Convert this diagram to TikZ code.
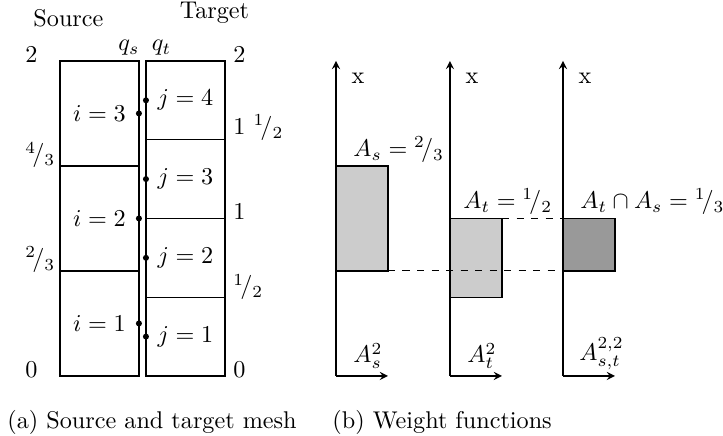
\documentclass[tikz,border=0pt]{standalone}
\usepackage{amsmath}
\usepackage{amssymb}
\usetikzlibrary{arrows.meta,positioning,calc}
\newcommand{\nfrac}[2]{\ensuremath{{}^{#1}\!/{}_{#2}}}
\tikzset{
  lbl/.style={inner sep=0pt},
  cell/.style={draw,line width=0.5pt},
  axis/.style={->,line width=0.5pt},
  guide/.style={line width=0.4pt,dashed},
  pt/.style={circle,fill,inner sep=0pt,minimum size=2.5pt}
}
\begin{document}
\begin{tikzpicture}[x=1cm,y=2.2876cm,>=stealth]
\useasboundingbox (-0.871,-0.381) rectangle (9.630,2.387);
% source and target mesh
\node[lbl] (srcname) at (0.123,2.273) {Source};
\node[lbl] (tgtname) at (2.244,2.305) {Target};
\draw[cell] (0,0) rectangle (1.147,2);
\draw[cell] (0,2/3) -- (1.147,2/3);
\draw[cell] (0,4/3) -- (1.147,4/3);
\draw[cell] (1.249,0) rectangle (2.397,2);
\draw[cell] (1.249,0.5) -- (2.397,0.5);
\draw[cell] (1.249,1) -- (2.397,1);
\draw[cell] (1.249,1.5) -- (2.397,1.5);
\node[lbl] (qs) at (1.002,2.083) {$q_s$};
\node[lbl] (qt) at (1.474,2.083) {$q_t$};
\node[lbl,anchor=west] (s2) at (-0.508,2.038) {$2$};
\node[lbl,anchor=west] (s43) at (-0.508,1.403) {\nfrac{4}{3}};
\node[lbl,anchor=west] (s23) at (-0.508,0.737) {\nfrac{2}{3}};
\node[lbl,anchor=west] (s0) at (-0.508,0.041) {$0$};
\node[lbl,anchor=west] (t2) at (2.513,2.038) {$2$};
\node[lbl,anchor=west] (t32) at (2.513,1.575) {$1$ \nfrac{1}{2}};
\node[lbl,anchor=west] (t1) at (2.513,1.041) {$1$};
\node[lbl,anchor=west] (t12) at (2.513,0.565) {\nfrac{1}{2}};
\node[lbl,anchor=west] (t0) at (2.513,0.041) {$0$};
\node (i3) at (0.574,5/3) {$i=3$};
\node (i2) at (0.574,1) {$i=2$};
\node (i1) at (0.574,1/3) {$i=1$};
\node (j4) at (1.823,1.75) {$j=4$};
\node (j3) at (1.823,1.25) {$j=3$};
\node (j2) at (1.823,0.75) {$j=2$};
\node (j1) at (1.823,0.25) {$j=1$};
\node[pt] (pi3) at (1.147,5/3) {};
\node[pt] (pi2) at (1.147,1) {};
\node[pt] (pi1) at (1.147,1/3) {};
\node[pt] (pj4) at (1.249,1.75) {};
\node[pt] (pj3) at (1.249,1.25) {};
\node[pt] (pj2) at (1.249,0.75) {};
\node[pt] (pj1) at (1.249,0.25) {};
% weight functions
\coordinate (o1) at (4.009,0);
\coordinate (o2) at (5.664,0);
\coordinate (o3) at (7.306,0);
\fill[black!20] (4.009,2/3) rectangle (4.764,4/3);
\fill[black!20] (5.664,0.5) rectangle (6.420,1);
\fill[black!40] (7.306,2/3) rectangle (8.061,1);
\draw[line width=0.5pt] (4.009,4/3) -- (4.764,4/3) -- (4.764,2/3) -- (4.009,2/3);
\draw[line width=0.5pt] (5.664,1) -- (6.420,1) -- (6.420,0.5) -- (5.664,0.5);
\draw[line width=0.5pt] (7.306,1) -- (8.061,1) -- (8.061,2/3) -- (7.306,2/3);
\draw[guide] (4.764,2/3) -- (7.306,2/3);
\draw[guide] (6.420,1) -- (7.306,1);
\draw[axis] (o1) -- ++(0,2);
\draw[axis] (o1) -- ++(0.755,0);
\draw[axis] (o2) -- ++(0,2);
\draw[axis] (o2) -- ++(0.755,0);
\draw[axis] (o3) -- ++(0,2);
\draw[axis] (o3) -- ++(0.755,0);
\node[lbl] (x1) at (4.329,1.892) {x};
\node[lbl] (x2) at (5.984,1.892) {x};
\node[lbl] (x3) at (7.626,1.892) {x};
\node[lbl,anchor=west] (as) at (4.256,1.435) {$A_s=\nfrac{2}{3}$};
\node[lbl,anchor=west] (at) at (5.853,1.105) {$A_t=\nfrac{1}{2}$};
\node[lbl,anchor=west] (ast) at (7.553,1.105) {$A_t\cap A_s=\nfrac{1}{3}$};
\node[lbl,anchor=west] (as2) at (4.256,0.127) {$A_s^2$};
\node[lbl,anchor=west] (at2) at (5.911,0.127) {$A_t^2$};
\node[lbl,anchor=west] (ast2) at (7.538,0.14) {$A_{s,t}^{2,2}$};
% captions
\node[lbl,anchor=west] (capa) at (-0.770,-0.298) {(a) Source and target mesh};
\node[lbl,anchor=west] (capb) at (3.951,-0.298) {(b) Weight functions};
\end{tikzpicture}
\end{document}
